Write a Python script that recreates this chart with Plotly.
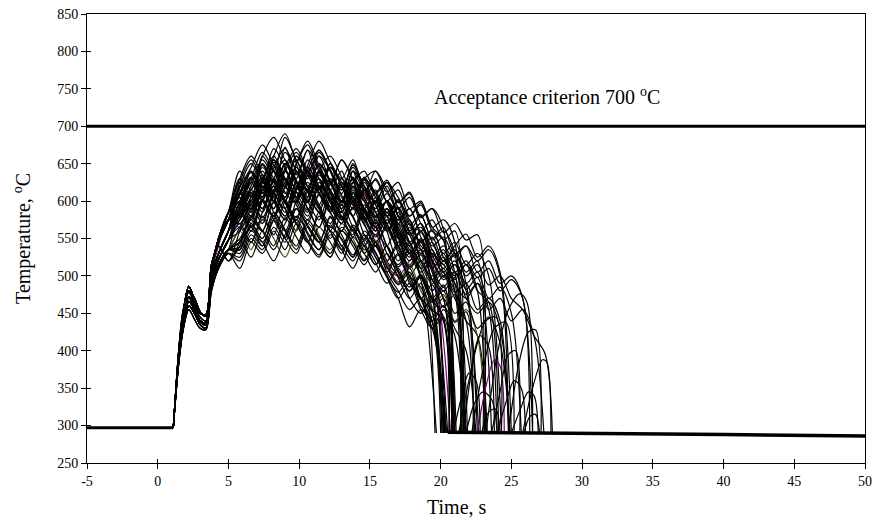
import plotly.graph_objects as go

# ---- time grid shared by the transient runs (s) ----
GRID_T = [1.1, 1.5, 1.8, 2.2, 2.6, 3.0, 3.4, 3.8, 4.3, 5.0, 5.8, 6.6, 7.4, 8.2, 9.0, 9.8,
          10.6, 11.4, 12.2, 13.0, 13.8, 14.6, 15.4, 16.2, 17.0, 17.8, 18.6,
          19.4, 20.2, 21.0, 21.8, 22.6, 23.4, 24.2, 25.0, 25.8, 26.6, 27.4]

# ---- early heat-up part (values at the first 10 grid times, up to 5 s) ----
early_a = [297, 395, 440, 472, 458, 440, 438, 500, 530, 560]
early_b = [297, 402, 452, 486, 468, 450, 448, 515, 545, 575]
early_c = [297, 388, 430, 460, 450, 435, 430, 485, 515, 535]
early_d = [297, 398, 448, 480, 470, 452, 446, 510, 550, 585]
early_e = [297, 392, 436, 466, 455, 440, 434, 495, 522, 548]
early_f = [297, 405, 455, 478, 462, 445, 440, 505, 540, 520]
early_g = [297, 385, 428, 455, 442, 430, 428, 480, 510, 530]
early_p = [297, 395, 442, 470, 456, 440, 436, 502, 540, 575]

# ---- temperature of each run after 5 s (values on the grid from 5.8 s on) ----
run_01 = [610, 585, 650, 612, 672, 630, 668, 618, 650, 600, 640, 590, 615, 560, 585, 530, 548, 480]
run_02 = [595, 640, 605, 660, 690, 650, 612, 660, 640, 598, 625, 575, 600, 560, 520, 545, 500, 470, 488]
run_03 = [545, 565, 540, 580, 550, 590, 565, 545, 580, 540, 565, 535, 540, 510, 530, 490, 470, 430, 455, 420]
run_04 = [620, 650, 630, 670, 645, 615, 648, 680, 652, 630, 655, 610, 590, 620, 580, 555, 565, 520]
run_05 = [575, 610, 590, 628, 600, 640, 605, 630, 598, 570, 610, 585, 560, 590, 540, 515, 535, 495, 470]
run_06 = [590, 625, 600, 580, 620, 655, 620, 640, 605, 585, 612, 590, 565, 540, 570, 545, 510, 530, 510, 528, 490]
run_07 = [600, 580, 615, 640, 612, 598, 635, 660, 625, 600, 640, 620, 585, 600, 560, 530, 505, 520]
run_08 = [545, 580, 560, 535, 570, 590, 555, 535, 565, 550, 525, 560, 540, 520, 540, 500, 485, 455, 440]
run_09 = [625, 600, 660, 640, 685, 655, 630, 665, 640, 610, 650, 620, 600, 625, 590, 560, 580, 545, 520, 540, 556, 525, 540, 505]
run_10 = [570, 545, 585, 620, 590, 560, 600, 585, 550, 580, 560, 530, 555, 520, 500, 480, 500, 455]
run_11 = [600, 630, 665, 640, 610, 650, 675, 640, 615, 640, 600, 630, 580, 600, 555, 575, 540, 530, 515, 490]
run_12 = [585, 560, 600, 580, 625, 600, 575, 610, 585, 560, 600, 575, 545, 520, 545, 500, 470, 440, 460, 430, 400]
run_13 = [565, 595, 620, 590, 630, 605, 585, 620, 600, 575, 590, 555, 530, 500, 470, 432, 455, 430]
run_14 = [612, 638, 615, 652, 628, 660, 640, 615, 645, 625, 598, 630, 610, 580, 600, 575, 545, 560, 525, 500, 515, 480, 465]
run_15 = [580, 600, 575, 610, 650, 620, 600, 640, 610, 585, 620, 600, 570, 590, 555, 530, 550, 510]
run_16 = [595, 570, 620, 600, 640, 615, 655, 630, 600, 630, 605, 575, 600, 570, 545, 565, 520, 500, 520, 480]
run_17 = [630, 605, 645, 620, 600, 640, 618, 590, 625, 605, 580, 610, 585, 560, 575, 540, 515, 490, 505]
run_18 = [535, 570, 550, 585, 560, 535, 570, 550, 525, 560, 545, 520, 545, 515, 490, 510, 470, 445, 460]
run_19 = [640, 615, 660, 685, 655, 635, 668, 645, 625, 655, 630, 610, 640, 615, 590, 605, 570, 550, 565, 530, 540, 505, 520, 490, 500, 470]
run_20 = [590, 615, 640, 610, 590, 625, 600, 640, 615, 590, 620, 585, 565, 590, 560, 535, 510, 480, 500, 470, 440, 420]
run_21 = [565, 580, 630, 655, 600, 600, 640, 648, 600, 578, 590, 610, 570, 515, 500, 520, 535, 515]
run_22 = [605, 580, 625, 660, 630, 605, 645, 620, 590, 625, 600, 575, 605, 580, 550, 570, 535, 510, 525, 490, 470, 490, 455]
run_23 = [570, 600, 625, 600, 575, 615, 640, 610, 585, 620, 595, 570, 540, 565, 530, 500, 520, 480]
run_24 = [585, 560, 600, 625, 598, 575, 612, 590, 560, 595, 565, 540, 565, 530, 505, 480, 500, 465, 480]
run_25 = [618, 645, 675, 648, 620, 660, 638, 668, 642, 615, 645, 615, 590, 610, 580, 555, 570, 535, 515, 530, 500, 515, 488, 500, 470, 455, 420, 395]
run_26 = [560, 590, 615, 585, 560, 600, 625, 595, 570, 600, 580, 550, 575, 540, 515, 535, 500, 470]
run_27 = [598, 630, 605, 645, 670, 640, 615, 650, 625, 595, 630, 600, 578, 600, 565, 540, 560, 520, 495, 505, 470, 450, 465, 430]
run_28 = [615, 590, 630, 600, 645, 670, 640, 615, 650, 620, 598, 625, 595, 570, 590, 555, 530, 545, 505, 480]
run_29 = [560, 535, 575, 550, 525, 562, 590, 555, 535, 570, 550, 522, 548, 518, 492, 515, 480, 458, 475, 440, 455, 420]
run_30 = [608, 632, 600, 640, 618, 650, 680, 648, 622, 655, 628, 600, 630, 598, 570, 590, 552, 525, 540, 505]
run_31 = [582, 608, 585, 620, 598, 570, 605, 630, 600, 575, 605, 580, 552, 575, 540, 512, 530, 495, 470]
run_32 = [592, 615, 590, 630, 655, 625, 600, 638, 612, 585, 618, 590, 565, 590, 555, 530, 548, 510, 485, 505, 475, 490, 455, 470, 440, 455, 420]
run_33 = [625, 655, 628, 600, 640, 665, 635, 610, 645, 620, 590, 615, 585, 560, 580, 545, 520, 535, 500, 515, 480]
run_34 = [535, 565, 545, 575, 600, 570, 545, 580, 560, 530, 562, 540, 515, 540, 508, 485, 502, 468, 445]
run_35 = [600, 625, 655, 630, 605, 640, 615, 650, 628, 600, 630, 605, 580, 600, 570, 545, 560, 528, 505, 520, 490, 505, 470, 485, 450]
run_36 = [588, 565, 605, 630, 602, 578, 615, 592, 565, 600, 578, 548, 572, 540, 512, 530, 495]
run_37 = [612, 588, 628, 605, 650, 625, 598, 635, 612, 585, 615, 588, 560, 585, 552, 525, 545, 505, 480, 498]
run_38 = [578, 605, 632, 605, 580, 618, 645, 618, 592, 625, 600, 572, 598, 565, 540, 558, 520, 495, 510, 478, 490, 455, 470, 440]
run_39 = [550, 578, 602, 575, 552, 590, 568, 545, 578, 555, 528, 555, 525, 500, 478, 498, 460, 438]
run_40 = [630, 605, 648, 625, 665, 640, 612, 650, 625, 598, 632, 605, 578, 600, 565, 540, 558, 522, 498, 515, 482, 498]
run_41 = [540, 575, 560, 600, 580, 620, 590, 565, 605, 580, 555, 590, 570, 600, 575, 590, 560, 575, 548, 560]
run_42 = [525, 555, 540, 575, 550, 530, 565, 545, 525, 560, 540, 515, 540, 505, 480, 455, 470, 440]
run_43 = [585, 620, 650, 625, 600, 638, 612, 585, 622, 600, 640, 615, 628, 600, 615, 580, 595, 560, 548]
run_44 = [600, 575, 612, 590, 630, 605, 580, 618, 592, 570, 600, 578, 555, 580, 550, 520, 545, 510, 530, 495, 515, 480]
run_45 = [530, 560, 545, 520, 555, 575, 548, 528, 560, 540, 520, 548, 525, 498, 470, 490, 455, 430, 445]
run_46 = [630, 660, 635, 610, 650, 628, 600, 640, 660, 632, 605, 630, 640, 612, 625, 590, 600, 565, 575, 545]
run_47 = [565, 545, 580, 555, 598, 570, 545, 585, 560, 535, 568, 545, 515, 540, 505, 480, 498, 465, 485, 450, 465, 430, 445, 410]
run_48 = [560, 595, 570, 610, 585, 625, 600, 575, 612, 588, 560, 595, 575, 600, 580, 555, 570, 540, 552, 525, 540, 520, 535, 500]
run_49 = [510, 545, 530, 560, 535, 570, 545, 525, 555, 535, 510, 540, 518, 490, 510, 470, 450, 470, 440]
run_50 = [575, 600, 578, 615, 640, 612, 588, 625, 602, 578, 612, 590, 610, 585, 600, 568, 582, 548, 560, 530]
run_51 = [610, 640, 618, 655, 630, 605, 642, 668, 640, 615, 648, 620, 598, 625, 605, 580, 598, 565, 548]
run_52 = [548, 525, 560, 540, 578, 552, 530, 565, 545, 520, 552, 530, 505, 530, 498, 470, 490, 455, 470, 438, 452]
run_53 = [595, 630, 610, 648, 622, 598, 635, 612, 588, 625, 605, 632, 610, 625, 598, 612, 580, 590, 558, 570, 548, 555]
run_54 = [590, 565, 602, 580, 618, 595, 570, 608, 585, 560, 592, 568, 545, 568, 535, 510, 528]
run_55 = [545, 580, 560, 598, 575, 612, 590, 565, 600, 578, 552, 585, 560, 585, 560, 530, 548, 520, 535, 505, 520, 498, 510, 480, 495, 470]
run_56 = [520, 550, 535, 565, 545, 580, 558, 535, 568, 548, 525, 555, 532, 505, 528, 495, 470, 488, 458, 475, 440]
run_57 = [620, 595, 635, 612, 650, 626, 600, 640, 615, 590, 625, 640, 612, 628, 598, 610, 578, 590, 562]
run_58 = [582, 612, 590, 628, 605, 645, 620, 595, 630, 608, 580, 615, 595, 570, 592, 560, 535, 552, 520, 535, 505, 520]
run_59 = [538, 568, 550, 585, 562, 540, 575, 552, 530, 565, 545, 520, 545, 512, 488, 505, 470, 452]
run_60 = [605, 585, 625, 655, 628, 605, 640, 618, 645, 620, 595, 628, 605, 580, 602, 570, 545, 562, 530, 545, 515, 530, 500]

RUN_EARLY = [early_a, early_b, early_c, early_d, early_e, early_a, early_b, early_c,
             early_d, early_e, early_a, early_b, early_c, early_d, early_e, early_a,
             early_b, early_c, early_d, early_e, early_p, early_a, early_b, early_c,
             early_d, early_e, early_a, early_b, early_c, early_d, early_e, early_a,
             early_b, early_c, early_d, early_e, early_a, early_b, early_c, early_d,
             early_f, early_g, early_a, early_b, early_c, early_d, early_e, early_f,
             early_g, early_a, early_b, early_c, early_d, early_e, early_f, early_g,
             early_a, early_b, early_c, early_d]
RUNS = [run_01, run_02, run_03, run_04, run_05, run_06, run_07, run_08, run_09, run_10,
        run_11, run_12, run_13, run_14, run_15, run_16, run_17, run_18, run_19, run_20,
        run_21, run_22, run_23, run_24, run_25, run_26, run_27, run_28, run_29, run_30,
        run_31, run_32, run_33, run_34, run_35, run_36, run_37, run_38, run_39, run_40,
        run_41, run_42, run_43, run_44, run_45, run_46, run_47, run_48, run_49, run_50,
        run_51, run_52, run_53, run_54, run_55, run_56, run_57, run_58, run_59, run_60]

# time at which each run is quenched (rewet) down to the coolant temperature
QUENCH_T = [20.3, 21.0, 21.8, 20.4, 20.9, 22.6, 20.2, 20.8, 25.0, 20.2,
            21.6, 22.5, 20.4, 24.1, 20.5, 21.5, 21.0, 20.9, 26.5, 23.3,
            20.7, 24.0, 20.1, 21.1, 27.9, 20.3, 24.9, 21.7, 23.2, 21.8,
            20.8, 27.3, 22.7, 20.6, 25.7, 19.7, 21.4, 24.8, 20.0, 23.6,
            21.6, 20.4, 20.9, 23.2, 21.0, 21.5, 24.9, 24.8, 20.9, 21.9,
            20.8, 22.3, 23.1, 19.6, 26.3, 22.4, 20.6, 23.0, 20.1, 24.3]
QUENCH_V = 290

# colour of each run (mostly black, one purple, one dark green, one olive)
RUN_COLORS = ["#000000"] * 60
RUN_COLORS[20] = "#800080"
RUN_COLORS[16] = "#1f3f1f"
RUN_COLORS[28] = "#4d4d10"

# ---- reheat arches after a first rewet ----
arch_01_t = [22.6, 23.2, 23.8, 24.2, 24.5]; arch_01_v = [290, 352, 388, 380, 290]
arch_02_t = [21.3, 22.0, 22.8, 23.4, 23.8]; arch_02_v = [292, 360, 420, 405, 291]
arch_03_t = [23.2, 24.0, 24.8, 25.6, 26.1, 26.5]; arch_03_v = [290, 395, 455, 476, 465, 290]
arch_04_t = [24.8, 25.5, 26.2, 26.7, 27.1]; arch_04_v = [290, 380, 425, 428, 290]
arch_05_t = [25.8, 26.5, 27.2, 27.5, 27.8]; arch_05_v = [290, 350, 388, 385, 290]
arch_06_t = [21.8, 22.4, 23.0, 23.6, 24.0]; arch_06_v = [290, 330, 345, 335, 290]
arch_07_t = [22.2, 23.0, 23.8, 24.6, 25.2]; arch_07_v = [290, 375, 430, 438, 290]
arch_08_t = [24.0, 24.6, 25.2, 25.7, 26.0]; arch_08_v = [290, 330, 360, 350, 290]
arch_09_t = [20.9, 21.5, 22.0, 22.5, 22.8]; arch_09_v = [290, 340, 370, 360, 290]
arch_10_t = [23.6, 24.2, 24.8, 25.3, 25.6]; arch_10_v = [290, 345, 395, 400, 290]
arch_11_t = [25.0, 25.6, 26.2, 26.6, 26.9]; arch_11_v = [290, 320, 345, 340, 290]
arch_12_t = [21.6, 22.4, 23.2, 23.9, 24.3]; arch_12_v = [290, 395, 440, 445, 290]
arch_13_t = [22.9, 23.4, 23.9, 24.2]; arch_13_v = [290, 318, 322, 290]
arch_14_t = [25.9, 26.3, 26.7, 27.0]; arch_14_v = [290, 312, 315, 290]
ARCHES = [(arch_01_t, arch_01_v, "#800080"), (arch_02_t, arch_02_v, "#000000"),
          (arch_03_t, arch_03_v, "#000000"), (arch_04_t, arch_04_v, "#000000"),
          (arch_05_t, arch_05_v, "#000000"), (arch_06_t, arch_06_v, "#000000"),
          (arch_07_t, arch_07_v, "#000000"), (arch_08_t, arch_08_v, "#000000"),
          (arch_09_t, arch_09_v, "#000000"), (arch_10_t, arch_10_v, "#000000"),
          (arch_11_t, arch_11_v, "#000000"), (arch_12_t, arch_12_v, "#000000"),
          (arch_13_t, arch_13_v, "#000000"), (arch_14_t, arch_14_v, "#000000")]

# ---- common steady parts ----
PRE_T = [-5, 1.1]
PRE_V = [297, 297]
TAIL_T = [20.5, 30.0, 40.0, 50.0]
TAIL_V = [291, 290, 288, 286]
CRIT_T = [-5, 50]
CRIT_V = [700, 700]

X_RANGE = [-5, 50]
Y_RANGE = [250, 850]
X_TICKS = [-5, 0, 5, 10, 15, 20, 25, 30, 35, 40, 45, 50]
Y_TICKS = [250, 300, 350, 400, 450, 500, 550, 600, 650, 700, 750, 800, 850]

FONT = "Liberation Serif, Times New Roman, serif"

fig = go.Figure()

for early, run, qt, col in zip(RUN_EARLY, RUNS, QUENCH_T, RUN_COLORS):
    vals = early + run
    ts = GRID_T[:len(vals)] + [qt]
    vs = vals + [QUENCH_V]
    fig.add_trace(go.Scatter(x=ts, y=vs, mode="lines",
                             line=dict(color=col, width=1.2, shape="spline", smoothing=0.9),
                             hoverinfo="skip", showlegend=False))

for at, av, col in ARCHES:
    fig.add_trace(go.Scatter(x=at, y=av, mode="lines",
                             line=dict(color=col, width=1.2, shape="spline", smoothing=0.9),
                             hoverinfo="skip", showlegend=False))

fig.add_trace(go.Scatter(x=PRE_T, y=PRE_V, mode="lines",
                         line=dict(color="#000000", width=3), showlegend=False))
fig.add_trace(go.Scatter(x=TAIL_T, y=TAIL_V, mode="lines",
                         line=dict(color="#000000", width=3.5), showlegend=False))
fig.add_trace(go.Scatter(x=CRIT_T, y=CRIT_V, mode="lines",
                         line=dict(color="#000000", width=3), showlegend=False))

# invisible trace on the overlay axes that carry the inner half of the cross ticks
fig.add_trace(go.Scatter(x=CRIT_T, y=CRIT_V, mode="lines", xaxis="x2", yaxis="y2",
                         line=dict(color="rgba(0,0,0,0)", width=0), hoverinfo="skip",
                         showlegend=False))

fig.add_annotation(x=27.5, y=740, text="Acceptance criterion 700 <sup>o</sup>C",
                   showarrow=False, xanchor="center", yanchor="middle",
                   font=dict(family=FONT, size=20, color="#000000"))
# axis titles
fig.add_annotation(xref="paper", yref="paper", x=0.4756, y=-0.098,
                   text="Time, s", showarrow=False, xanchor="center", yanchor="middle",
                   font=dict(family=FONT, size=20, color="#000000"))
fig.add_annotation(xref="paper", yref="paper", x=-0.083, y=0.50,
                   text="Temperature, <sup>o</sup>C", showarrow=False, textangle=-90,
                   xanchor="center", yanchor="middle",
                   font=dict(family=FONT, size=20, color="#000000"))

fig.update_layout(
    width=879, height=526,
    margin=dict(l=87, r=14, t=14, b=63),
    paper_bgcolor="white", plot_bgcolor="white",
    font=dict(family=FONT, size=14, color="#000000"),
    showlegend=False,
    xaxis=dict(range=X_RANGE, tickvals=X_TICKS, ticktext=[str(v) for v in X_TICKS],
               showgrid=False, zeroline=False, showline=True, linecolor="#000000",
               linewidth=1, mirror=True, ticks="outside", ticklen=5, tickcolor="#000000",
               tickfont=dict(family=FONT, size=14), automargin=False),
    yaxis=dict(range=Y_RANGE, tickvals=Y_TICKS, ticktext=[str(v) for v in Y_TICKS],
               showgrid=False, zeroline=False, showline=True, linecolor="#000000",
               linewidth=1, mirror=True, ticks="outside", ticklen=5, tickcolor="#000000",
               tickfont=dict(family=FONT, size=14), automargin=False),
    xaxis2=dict(range=X_RANGE, tickvals=X_TICKS, overlaying="x", side="bottom",
                showticklabels=False, showgrid=False, zeroline=False, showline=False,
                ticks="inside", ticklen=4, tickcolor="#000000", automargin=False),
    yaxis2=dict(range=Y_RANGE, tickvals=Y_TICKS, overlaying="y", side="left",
                showticklabels=False, showgrid=False, zeroline=False, showline=False,
                ticks="inside", ticklen=4, tickcolor="#000000", automargin=False),
)

fig.write_html("out.html", config={"displayModeBar": False},
               post_script="document.body.style.margin='0';document.body.style.padding='0';")
